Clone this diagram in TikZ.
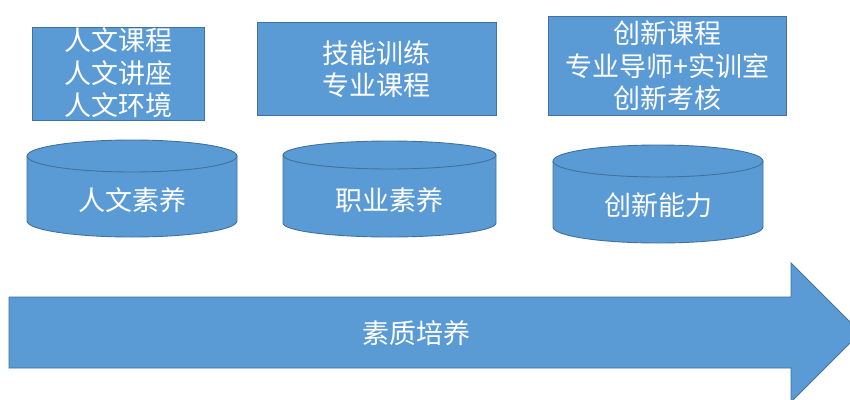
\documentclass[tikz,border=0pt]{standalone}
\usepackage{fontspec}
\newfontfamily\cjk{Noto Sans CJK SC}
\definecolor{boxfill}{HTML}{5B9BD5}
\definecolor{boxline}{HTML}{41719C}
\tikzset{
  shapestyle/.style={fill=boxfill,draw=boxline,line width=0.9pt},
  lbl/.style={text=white,align=center,inner sep=0pt,font=\cjk\fontsize{27}{32.5}\selectfont},
}
\newcommand{\mycyl}[5]{% x1 x2 ytop ybot ry
  \pgfmathsetmacro{\rx}{(#2-#1)/2}
  \pgfmathsetmacro{\ct}{#3+#5}
  \pgfmathsetmacro{\cb}{#4-#5}
  \draw[shapestyle] (#1,\ct) -- (#1,\cb) arc[start angle=180,end angle=360,x radius=\rx,y radius=-#5] -- (#2,\ct) arc[start angle=0,end angle=180,x radius=\rx,y radius=-#5] -- cycle;
  \draw[boxline,line width=0.9pt] (#1,\ct) arc[start angle=180,end angle=360,x radius=\rx,y radius=-#5];
}
\begin{document}
\begin{tikzpicture}[x=1pt,y=-1pt]
\useasboundingbox[fill=white] (0,0) rectangle (850,399);
\clip (0,0) rectangle (850,399);
% top boxes
\draw[shapestyle] (32,27) rectangle (204,120);
\node[lbl] (t1) at (118,73) {人文课程\\人文讲座\\人文环境};
\draw[shapestyle] (257,22) rectangle (496,115);
\node[lbl] (t2) at (376,69) {技能训练\\专业课程};
\draw[shapestyle] (548,16) rectangle (786,115);
\node[lbl] (t3) at (667,66) {创新课程\\专业导师+实训室\\创新考核};
% cylinders
\mycyl{27}{237}{140}{237}{16}
\node[lbl] (c1) at (132,200) {人文素养};
\mycyl{283}{496}{141}{237}{14}
\node[lbl] (c2) at (389,200) {职业素养};
\mycyl{553}{763}{145}{243}{16}
\node[lbl] (c3) at (658,205) {创新能力};
% arrow
\draw[shapestyle] (9,297) -- (791,297) -- (791,263) -- (860.5,332.5) -- (791,402) -- (791,368) -- (9,368) -- cycle;
\node[lbl] (a) at (416,333) {素质培养};
\end{tikzpicture}
\end{document}
